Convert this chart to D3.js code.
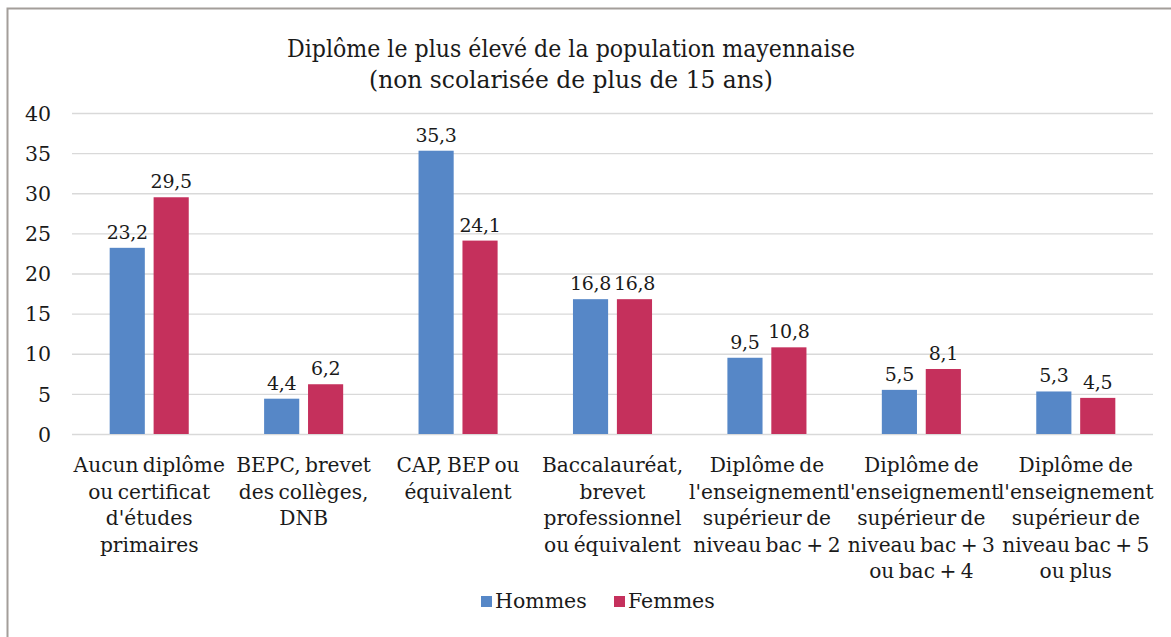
<!DOCTYPE html>
<html><head><meta charset="utf-8">
<script src="https://cdn.jsdelivr.net/npm/d3@7/dist/d3.min.js"></script>
<style>
html,body{margin:0;padding:0;background:#fff;}
svg{display:block;}
text{font-family:"DejaVu Serif",serif;fill:#1a1a1a;}
</style></head>
<body>
<script>
const categories = [
  ["Aucun diplôme","ou certificat","d'études","primaires"],
  ["BEPC, brevet","des collèges,","DNB"],
  ["CAP, BEP ou","équivalent"],
  ["Baccalauréat,","brevet","professionnel","ou équivalent"],
  ["Diplôme de","l'enseignement","supérieur de","niveau bac + 2"],
  ["Diplôme de","l'enseignement","supérieur de","niveau bac + 3","ou bac + 4"],
  ["Diplôme de","l'enseignement","supérieur de","niveau bac + 5","ou plus"]
];
const hommes = [23.2, 4.4, 35.3, 16.8, 9.5, 5.5, 5.3];
const femmes = [29.5, 6.2, 24.1, 16.8, 10.8, 8.1, 4.5];
const seriesNames = ["Hommes","Femmes"];
const yTicks = [0,5,10,15,20,25,30,35,40];
const titleLines = ["Diplôme le plus élevé de la population mayennaise","(non scolarisée de plus de 15 ans)"];

const W = 1171, H = 637;
const colors = ["#5687c7","#c5305c"];
const margin = {left:72, right:18, top:113, bottom:203};
const svg = d3.select("body").append("svg").attr("width",W).attr("height",H);

// frame
svg.append("path").attr("d",`M7.5,${H} L7.5,8.5 L${W},8.5`).attr("fill","none")
  .attr("stroke","#a39e9a").attr("stroke-width",2);

const x0 = d3.scaleBand().domain(d3.range(categories.length)).range([margin.left, W-margin.right]);
const x1 = d3.scaleBand().domain([0,1]).range([x0.bandwidth()*0.244, x0.bandwidth()*0.756]).paddingInner(0.2);
const y = d3.scaleLinear().domain([0,40]).range([H-margin.bottom, margin.top]);

// gridlines
svg.append("g").selectAll("line").data(yTicks).join("line")
  .attr("x1",margin.left).attr("x2",W-margin.right)
  .attr("y1",d=>y(d)+0.5).attr("y2",d=>y(d)+0.5)
  .attr("stroke","#d9d9d9").attr("stroke-width",1.3);

// y axis labels
const yAxis = d3.axisLeft(y).tickValues(yTicks).tickSize(0).tickPadding(0).tickFormat(d=>d);
const ya = svg.append("g").attr("transform",`translate(51,0)`).call(yAxis);
ya.select(".domain").remove();
ya.selectAll("text").attr("font-size",20.5).attr("font-family","DejaVu Serif").attr("fill","#1a1a1a").attr("dy","0.35em");

const data = categories.map((c,i)=>({i, vals:[hommes[i],femmes[i]]}));
const groups = svg.append("g").selectAll("g").data(data).join("g")
  .attr("transform",d=>`translate(${x0(d.i)},0)`);
groups.selectAll("rect").data(d=>d.vals.map((v,k)=>({v,k}))).join("rect")
  .attr("x",d=>x1(d.k)).attr("width",x1.bandwidth())
  .attr("y",d=>y(d.v)).attr("height",d=>y(0)-y(d.v))
  .attr("fill",d=>colors[d.k]);
groups.selectAll("text.val").data(d=>d.vals.map((v,k)=>({v,k}))).join("text")
  .attr("class","val")
  .attr("x",d=>x1(d.k)+x1.bandwidth()/2).attr("y",d=>y(d.v)-9)
  .attr("text-anchor","middle").attr("font-size",19).attr("letter-spacing",-0.3)
  .text(d=>String(d.v).replace(".",","));

// category labels
const cl = svg.append("g").selectAll("text").data(categories).join("text")
  .attr("x",(d,i)=>x0(i)+x0.bandwidth()/2).attr("y",472)
  .attr("text-anchor","middle").attr("font-size",20.2).attr("word-spacing",-2);
cl.selectAll("tspan").data(d=>d).join("tspan")
  .attr("x",function(){return this.parentNode.getAttribute("x");})
  .attr("dy",(d,j)=>j===0?0:26.6).text(d=>d);

// title
const titleLen = [568, 404];
const t = svg.append("g");
t.selectAll("text").data(titleLines).join("text")
  .attr("x",571).attr("y",(d,j)=>57+j*31).attr("text-anchor","middle")
  .attr("font-size",25)
  .attr("textLength",(d,j)=>titleLen[j]).attr("lengthAdjust","spacingAndGlyphs")
  .text(d=>d);

// legend
const legX = [481, 614];
const lg = svg.append("g").selectAll("g").data(seriesNames).join("g")
  .attr("transform",(d,i)=>`translate(${legX[i]},596)`);
lg.append("rect").attr("width",11).attr("height",11).attr("fill",(d,i)=>colors[i]);
lg.append("text").attr("x",14).attr("y",12).attr("font-size",20.5).text(d=>d);
</script>
</body></html>
